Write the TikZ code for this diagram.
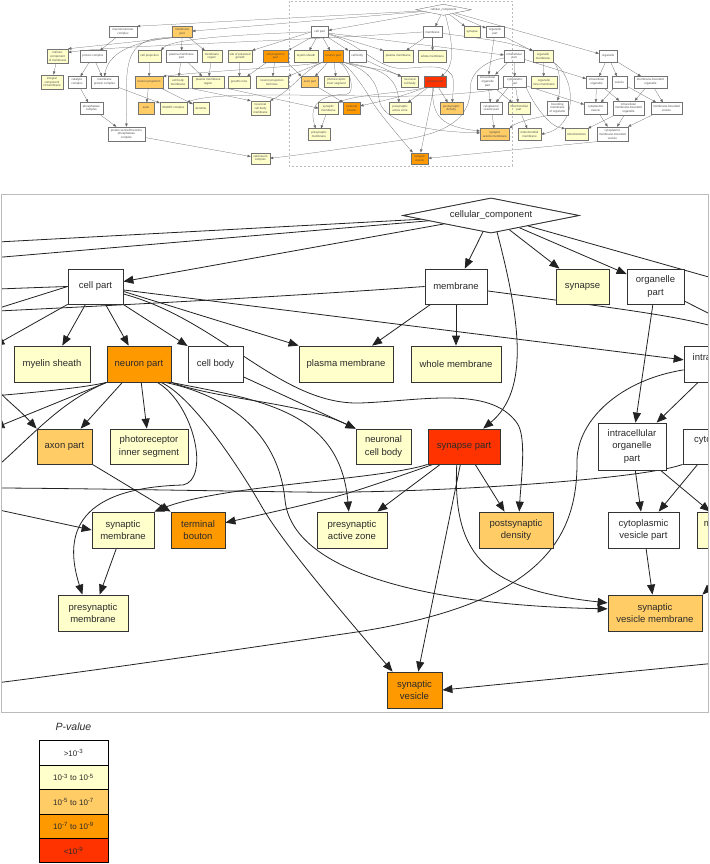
\documentclass[tikz,border=0pt]{standalone}
\usepackage{fontspec}
\setmainfont{Liberation Sans}
\usetikzlibrary{shapes.geometric,arrows.meta}
\definecolor{cY}{HTML}{FFFFCC}
\definecolor{cL}{HTML}{FFCC66}
\definecolor{cO}{HTML}{FF9900}
\definecolor{cR}{HTML}{FF3300}
\definecolor{bordc}{HTML}{333333}
\definecolor{edgec}{HTML}{222222}
\definecolor{txtc}{HTML}{2B2B2B}
\definecolor{framec}{HTML}{BBBBBB}
\newcommand\nfont{\fontsize{9.5}{12.3}\selectfont}
\tikzset{
 nb/.style={draw=bordc,line width=0.8pt,rectangle,align=center,inner sep=0pt,font=\nfont,text=txtc},
 ge/.style={draw=edgec,line width=0.8pt,-{Triangle[length=10pt,width=8pt]}},
 lg/.style={draw=black,line width=0.8pt,minimum width=69pt,minimum height=24.4pt,inner sep=0pt,font=\fontsize{8}{9}\selectfont,text=txtc}
}
\newcommand\gn[8]{\node[nb,fill=#7,minimum width=#5pt,minimum height=#6pt] (#1#2) at (#3,#4) {#8};}
\newcommand\gonodes[1]{%
 \node[draw=bordc,line width=0.8pt,fill=white,diamond,aspect=5,inner sep=0pt,minimum width=176pt,minimum height=35pt,font=\nfont,text=txtc] (#1cc) at (491,215.5) {cellular\_component};
 \gn{#1}{cellpart}{95.5}{286.5}{55}{35}{white}{cell part}
 \gn{#1}{membrane}{456}{286.5}{62}{35}{white}{membrane}
 \gn{#1}{synapse}{582.5}{286.5}{53}{35}{cY}{synapse}
 \gn{#1}{orgpart}{655.5}{286.5}{57}{35}{white}{organelle\\part}
 \gn{#1}{myelin}{52}{364}{76}{36}{cY}{myelin sheath}
 \gn{#1}{neuronpart}{139}{364}{64}{36}{cO}{neuron part}
 \gn{#1}{cellbody}{215.5}{364}{55}{36}{white}{cell body}
 \gn{#1}{plasma}{346}{364}{94}{36}{cY}{plasma membrane}
 \gn{#1}{wholemem}{456}{364}{90}{36}{cY}{whole membrane}
 \gn{#1}{intra}{717}{364}{66}{36}{white}{intracellular\\part}
 \gn{#1}{axonpart}{64.5}{446.5}{55}{35}{cL}{axon part}
 \gn{#1}{photo}{149}{446.5}{78}{35}{cY}{photoreceptor\\inner segment}
 \gn{#1}{ncb}{383.5}{446.5}{55}{35}{cY}{neuronal\\cell body}
 \gn{#1}{synpart}{464}{446.5}{72}{35}{cR}{synapse part}
 \gn{#1}{iop}{632}{446.5}{68}{47}{white}{intracellular\\organelle\\part}
 \gn{#1}{cytopart}{719}{446.5}{72}{35}{white}{cytoplasmic\\part}
 \gn{#1}{synmem}{123}{530}{62}{36}{cY}{synaptic\\membrane}
 \gn{#1}{termb}{198}{530}{54}{36}{cO}{terminal\\bouton}
 \gn{#1}{paz}{352}{530}{70}{36}{cY}{presynaptic\\active zone}
 \gn{#1}{psd}{516}{530}{74}{36}{cL}{postsynaptic\\density}
 \gn{#1}{cvp}{643.5}{530}{71}{36}{white}{cytoplasmic\\vesicle part}
 \gn{#1}{mitopart}{732}{530}{70}{36}{cY}{mitochondrial\\part}
 \gn{#1}{presynmem}{93}{613}{70}{36}{cY}{presynaptic\\membrane}
 \gn{#1}{svm}{655}{613}{94}{36}{cL}{synaptic\\vesicle membrane}
 \gn{#1}{synves}{414.5}{690}{55}{36}{cO}{synaptic\\vesicle}
 \gn{#1}{macro}{-533}{286.5}{89}{36}{white}{macromolecular\\complex}
 \gn{#1}{mempart}{-344}{286.5}{64}{36}{cL}{membrane\\part}
 \gn{#1}{intrinsic}{-742}{364}{67}{47}{cY}{intrinsic\\component\\of membrane}
 \gn{#1}{protcomp}{-629}{364}{83}{36}{white}{protein complex}
 \gn{#1}{cproj}{-448}{364}{73}{36}{cY}{cell projection}
 \gn{#1}{pmp}{-346}{364}{99}{36}{white}{plasma membrane\\part}
 \gn{#1}{memreg}{-249}{364}{64}{36}{cY}{membrane\\region}
 \gn{#1}{spg}{-159}{364}{76}{36}{cY}{site of polarized\\growth}
 \gn{#1}{cpp}{-46}{364}{80}{36}{cO}{cell projection\\part}
 \gn{#1}{integral}{-760}{446.5}{70}{47}{cY}{integral\\component\\of membrane}
 \gn{#1}{catal}{-680}{446.5}{58}{36}{white}{catalytic\\complex}
 \gn{#1}{mpc}{-592}{446.5}{86}{36}{white}{membrane\\protein complex}
 \gn{#1}{nproj}{-450}{446.5}{89}{36}{cL}{neuron projection}
 \gn{#1}{cbm}{-357}{446.5}{64}{36}{cY}{cell body\\membrane}
 \gn{#1}{pmr}{-261}{446.5}{102}{36}{cY}{plasma membrane\\region}
 \gn{#1}{gcone}{-162}{446.5}{70}{36}{cY}{growth cone}
 \gn{#1}{npt}{-57}{446.5}{102}{36}{cY}{neuron projection\\terminus}
 \gn{#1}{phos}{-634}{530}{74}{36}{white}{phosphatase\\complex}
 \gn{#1}{axon}{-459}{530}{51}{36}{cL}{axon}
 \gn{#1}{snare}{-372}{530}{86}{36}{cY}{SNARE complex}
 \gn{#1}{dendrite}{-284}{530}{51}{36}{cY}{dendrite}
 \gn{#1}{ncbm}{-94}{530}{61}{47}{cY}{neuronal\\cell body\\membrane}
 \gn{#1}{pstp}{-522}{613}{118}{47}{white}{protein serine/threonine\\phosphatase\\complex}
 \gn{#1}{calc}{-94}{690}{61}{36}{cY}{calcineurin\\complex}
 \gn{#1}{om}{809}{364}{64}{36}{cY}{organelle\\membrane}
 \gn{#1}{organelle}{1017}{364}{58}{36}{white}{organelle}
 \gn{#1}{oim}{812}{446.5}{83}{36}{cY}{organelle\\inner membrane}
 \gn{#1}{intorg}{980}{446.5}{67}{36}{white}{intracellular\\organelle}
 \gn{#1}{vesicle}{1053}{446.5}{48}{36}{white}{vesicle}
 \gn{#1}{mbo}{1152}{446.5}{105}{36}{white}{membrane-bounded\\organelle}
 \gn{#1}{bmo}{855}{530}{67}{47}{white}{bounding\\membrane\\of organelle}
 \gn{#1}{cves}{977}{530}{73}{36}{white}{cytoplasmic\\vesicle}
 \gn{#1}{imbo}{1082}{530}{99}{47}{white}{intracellular\\membrane-bounded\\organelle}
 \gn{#1}{mbv}{1203.5}{530}{99}{36}{white}{membrane-bounded\\vesicle}
 \gn{#1}{mitomem}{766}{613}{73}{36}{cY}{mitochondrial\\membrane}
 \gn{#1}{mito}{916}{613}{73}{36}{cY}{mitochondrion}
 \gn{#1}{cmbv}{1031}{613}{99}{47}{white}{cytoplasmic\\membrane-bounded\\vesicle}
}
\newcommand\goedges[1]{%
 \draw[ge] (#1cc) -- (#1cellpart);
 \draw[ge] (#1cc) -- (#1membrane);
 \draw[ge] (#1cc) -- (#1synapse);
 \draw[ge] (#1cc) -- (#1orgpart);
 \draw[ge] (#1cc) -- (#1organelle);
 \draw[ge] (#1cc) -- (#1macro.north east);
 \draw[ge] (#1cc) -- (#1mempart);
 \draw[ge] (#1cc.-70) .. controls (520,320) and (530,390) .. (#1synpart.43);
 \draw[ge] (#1cellpart) -- (#1myelin);
 \draw[ge] (#1cellpart) -- (#1neuronpart);
 \draw[ge] (#1cellpart) -- (#1cellbody);
 \draw[ge] (#1cellpart.-10) -- (#1plasma.north west);
 \draw[ge] (#1cellpart) -- (#1intra);
 \draw[ge] (#1cellpart.-15) .. controls (220,320) and (280,405) .. (360,403) .. controls (420,401) and (490,385) .. (517,423) .. controls (527,437) and (521,480) .. (#1psd.80);
 \draw[ge] (#1cellpart.south west) -- (#1cpp.north east);
 \draw[ge] (#1cellpart.west) -- (#1spg.north east);
 \draw[ge] (#1cellpart.west) .. controls (-100,292) and (-380,305) .. (#1cproj.north east);
 \draw[ge] (#1membrane) -- (#1plasma);
 \draw[ge] (#1membrane) -- (#1wholemem);
 \draw[ge] (#1membrane.west) .. controls (0,317) and (-560,330) .. (#1intrinsic.20);
 \draw[ge] (#1membrane.-8) .. controls (690,318) .. (#1om.north west);
 \draw[ge] (#1neuronpart) -- (#1axonpart);
 \draw[ge] (#1neuronpart) -- (#1photo);
 \draw[ge] (#1neuronpart.south east) .. controls (220,400) and (300,402) .. (#1ncb.north west);
 \draw[ge] (#1cellbody) -- (#1ncb.north west);
 \draw[ge] (#1neuronpart.-45) .. controls (195,405) and (210,480) .. (183,485) .. controls (70,488) and (65,540) .. (#1presynmem.120);
 \draw[ge] (#1neuronpart.-40) .. controls (190,395) and (235,460) .. (262,507) .. controls (282,542) and (340,610) .. (#1synves.140);
 \draw[ge] (#1neuronpart.-35) .. controls (225,395) and (278,430) .. (285,500) .. controls (292,570) and (420,605) .. (#1svm.175);
 \draw[ge] (#1neuronpart.-30) .. controls (260,400) and (340,410) .. (#1paz.100);
 \draw[ge] (#1neuronpart.south west) .. controls (40,398) and (-250,410) .. (#1nproj.north east);
 \draw[ge] (#1neuronpart.south west) -- (#1npt.north east);
 \draw[ge] (#1neuronpart.south west) .. controls (40,410) and (10,470) .. (#1ncbm.north east);
 \draw[ge] (#1axonpart.south east) -- (#1termb.north west);
 \draw[ge] (#1cpp.south east) .. controls (-5,392) and (15,405) .. (#1axonpart.north west);
 \draw[ge] (#1synpart.south west) .. controls (380,480) and (220,485) .. (#1synmem.north east);
 \draw[ge] (#1synpart.-150) .. controls (340,497) .. (#1termb.15);
 \draw[ge] (#1synpart.-143) -- (#1paz.36);
 \draw[ge] (#1synpart) -- (#1psd);
 \draw[ge] (#1synpart) -- (#1synves);
 \draw[ge] (#1synpart.-112) .. controls (452,560) and (490,590) .. (#1svm.168);
 \draw[ge] (#1synmem) -- (#1presynmem);
 \draw[ge] (#1pmr.south east) -- (#1synmem.west);
 \draw[ge] (#1orgpart) -- (#1iop);
 \draw[ge] (#1orgpart) -- (#1om);
 \draw[ge] (#1intra) -- (#1iop);
 \draw[ge] (#1iop) -- (#1cvp);
 \draw[ge] (#1iop) -- (#1mitopart);
 \draw[ge] (#1cytopart.-140) -- (#1cvp);
 \draw[ge] (#1cvp) -- (#1svm);
 \draw[ge] (#1intra) -- (#1cytopart);
 \draw[ge] (#1intra) -- (#1intorg);
 \draw[ge] (#1intra.190) .. controls (620,380) and (578,420) .. (577,460) .. controls (578,540) and (540,605) .. (350,633) .. controls (220,652) and (60,676) .. (#1calc.east);
 \draw[ge] (#1cytopart.south west) .. controls (640,480) and (420,494) .. (300,492) .. controls (0,488) and (-250,480) .. (#1snare.north east);
 \draw[ge] (#1cytopart) -- (#1mitopart);
 \draw[ge] (#1cytopart) -- (#1cves);
 \draw[ge] (#1cytopart.south east) .. controls (780,520) and (830,590) .. (#1mito.north west);
 \draw[ge] (#1om) -- (#1oim);
 \draw[ge] (#1om.south east) .. controls (866,400) and (866,470) .. (#1bmo.north);
 \draw[ge] (#1om.south east) .. controls (915,430) and (925,590) .. (#1mitomem.east);
 \draw[ge] (#1organelle) -- (#1intorg);
 \draw[ge] (#1organelle) -- (#1vesicle);
 \draw[ge] (#1organelle) -- (#1mbo);
 \draw[ge] (#1intorg) -- (#1cves);
 \draw[ge] (#1intorg) -- (#1imbo);
 \draw[ge] (#1vesicle) -- (#1cves);
 \draw[ge] (#1vesicle) -- (#1mbv);
 \draw[ge] (#1mbo) -- (#1imbo);
 \draw[ge] (#1mbo) -- (#1mbv);
 \draw[ge] (#1cves) -- (#1cmbv);
 \draw[ge] (#1imbo) -- (#1cmbv);
 \draw[ge] (#1imbo) -- (#1mito);
 \draw[ge] (#1mbv) -- (#1cmbv);
 \draw[ge] (#1mitopart) -- (#1mitomem);
 \draw[ge] (#1bmo.south west) .. controls (760,565) and (720,578) .. (#1svm.north east);
 \draw[ge] (#1cmbv.south west) -- (#1synves.east);
 \draw[ge] (#1macro) -- (#1protcomp);
 \draw[ge] (#1mempart) -- (#1pmp);
 \draw[ge] (#1mempart) -- (#1memreg);
 \draw[ge] (#1mempart.south west) -- (#1intrinsic.north east);
 \draw[ge] (#1mempart.south west) .. controls (-540,300) and (-522,400) .. (#1pstp.north);
 \draw[ge] (#1mempart.south west) .. controls (-520,320) and (-580,360) .. (#1mpc.north);
 \draw[ge] (#1protcomp) -- (#1catal);
 \draw[ge] (#1protcomp) -- (#1mpc);
 \draw[ge] (#1catal) -- (#1phos);
 \draw[ge] (#1phos) -- (#1pstp);
 \draw[ge] (#1intrinsic) -- (#1integral);
 \draw[ge] (#1mpc) -- (#1snare);
 \draw[ge] (#1cproj) -- (#1nproj);
 \draw[ge] (#1nproj) -- (#1axon);
 \draw[ge] (#1nproj) -- (#1dendrite);
 \draw[ge] (#1pmp) -- (#1cbm);
 \draw[ge] (#1pmp) -- (#1pmr);
 \draw[ge] (#1memreg) -- (#1pmr);
 \draw[ge] (#1cbm.south east) -- (#1ncbm.north west);
 \draw[ge] (#1pstp) -- (#1calc);
 \draw[ge] (#1spg) -- (#1gcone);
 \draw[ge] (#1cpp) -- (#1gcone);
 \draw[ge] (#1cpp) -- (#1npt);
}
\begin{document}
\begin{tikzpicture}[x=1pt,y=-1pt]
\useasboundingbox[fill=white] (0,0) rectangle (709,864);
% overview
\begin{scope}[transform canvas={cm={0.313,0,0,0.313,(289.8pt,57.7pt)}}]
 \colorlet{edgec}{black!60}\colorlet{bordc}{black!55}\colorlet{txtc}{black!70}
 \gonodes{o}\goedges{o}\gonodes{o}
\end{scope}
\draw[framec,line width=0.6pt,dash pattern=on 2pt off 2pt] (289,1) rectangle (512,166);
% main panel
\begin{scope}
 \clip (1,194) rectangle (708,712);
 \gonodes{m}\goedges{m}\gonodes{m}
\end{scope}
\draw[framec,line width=0.8pt] (1,194) rectangle (708,712);
% legend
\node[font=\fontsize{10.5}{12}\selectfont\itshape,text=txtc] (pv) at (73.5,727) {P-value};
\node[lg,fill=white] (lg1) at (73.5,753) {>10\textsuperscript{-3}};
\node[lg,fill=cY] (lg2) at (73.5,777.4) {10\textsuperscript{-3} to 10\textsuperscript{-5}};
\node[lg,fill=cL] (lg3) at (73.5,801.8) {10\textsuperscript{-5} to 10\textsuperscript{-7}};
\node[lg,fill=cO] (lg4) at (73.5,826.2) {10\textsuperscript{-7} to 10\textsuperscript{-9}};
\node[lg,fill=cR] (lg5) at (73.5,850.6) {<10\textsuperscript{-9}};
\end{tikzpicture}
\end{document}
